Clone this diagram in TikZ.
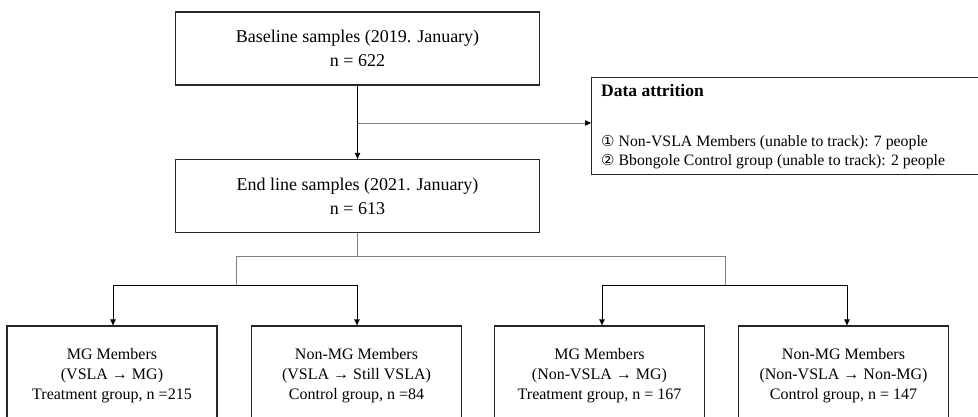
\documentclass[tikz,border=0pt]{standalone}
\usepackage{fontspec}
\setmainfont{Liberation Serif}
\newfontfamily\circfont{DejaVu Sans}
\usetikzlibrary{arrows.meta}
\newcommand{\circno}[1]{{\circfont\fontsize{15}{19}\selectfont #1}}
\begin{document}
\begin{tikzpicture}[x=1pt,y=-1pt,
  box/.style={draw=black!85,line width=1.3pt,align=center,inner sep=0pt},
  topbox/.style={box,minimum width=364pt,minimum height=73pt,font=\fontsize{18}{24}\selectfont},
  groupbox/.style={box,minimum width=210pt,minimum height=100pt,font=\fontsize{16}{20}\selectfont},
  attrtext/.style={anchor=base west,inner sep=0pt,font=\fontsize{15.8}{19}\selectfont},
  flow/.style={line width=0.9pt,black},
  branch/.style={line width=0.7pt,black!50},
  tip/.style={-{Triangle[length=6pt,width=5.5pt,color=black]}}
]
\useasboundingbox (0,0) rectangle (978,417);
\clip (0,0) rectangle (978,417);

% sample boxes
\node[topbox] (base) at (357.5,48.5) {Baseline samples (2019. January)\\n = 622};
\node[topbox] (end) at (357.5,196) {End line samples (2021. January)\\n = 613};

% attrition box (runs past the right edge)
\node[box,anchor=north west,minimum width=420pt,minimum height=97pt] (attr) at (591,77) {};
\node[attrtext,font=\fontsize{17.5}{19}\selectfont\bfseries] (attrhead) at (601,96.5) {Data attrition};
\node[attrtext] (attrone) at (601,147) {\circno{①} Non-VSLA Members (unable to track): 7 people};
\node[attrtext] (attrtwo) at (601,165.5) {\circno{②} Bbongole Control group (unable to track): 2 people};

% group boxes (run past the bottom edge)
\node[groupbox] (gone) at (112,376) {MG Members\\(VSLA → MG)\\Treatment group, n =215};
\node[groupbox] (gtwo) at (356.5,376) {Non-MG Members\\(VSLA → Still VSLA)\\Control group, n =84};
\node[groupbox] (gthree) at (599.5,376) {MG Members\\(Non-VSLA → MG)\\Treatment group, n = 167};
\node[groupbox] (gfour) at (843.5,376) {Non-MG Members\\(Non-VSLA → Non-MG)\\Control group, n = 147};

% baseline to end line, with the attrition branch
\draw[flow,tip] (base.south) -- (end.north);
\coordinate (split) at (357.5,123);
\draw[branch,tip] (split) -- (split -| attr.west);

% end line split into the four groups
\coordinate (fork) at (357.5,256);
\coordinate (lj) at (236,256);
\coordinate (rj) at (725,256);
\coordinate (lb) at (236,285);
\coordinate (rb) at (725,285);
\draw[branch] (end.south) -- (fork);
\draw[branch] (lb) -- (lj) -- (rj) -- (rb);
\draw[flow,tip] (lb) -| ([xshift=1pt]gone.north);
\draw[flow,tip] (lb) -| ([xshift=0.5pt]gtwo.north);
\draw[flow,tip] (rb) -| ([xshift=2.5pt]gthree.north);
\draw[flow,tip] (rb) -| ([xshift=3.5pt]gfour.north);
\end{tikzpicture}
\end{document}
